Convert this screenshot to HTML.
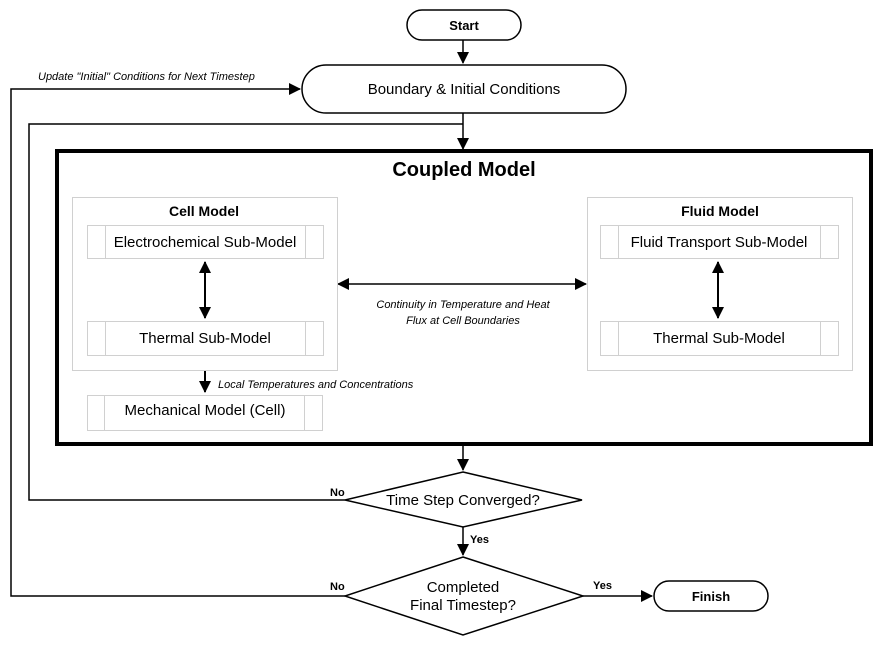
<!DOCTYPE html>
<html><head><style>
body{margin:0;background:#fff}
svg{display:block;font-family:"Liberation Sans",sans-serif}
</style></head><body>
<svg width="882" height="647" viewBox="0 0 882 647" xmlns="http://www.w3.org/2000/svg">
<defs>
<marker id="a" markerWidth="12" markerHeight="12" refX="11" refY="6" orient="auto" markerUnits="userSpaceOnUse"><path d="M0,0 L12,6 L0,12 z" fill="#000"/></marker>
<marker id="b" markerWidth="12" markerHeight="12" refX="1" refY="6" orient="auto" markerUnits="userSpaceOnUse"><path d="M12,0 L0,6 L12,12 z" fill="#000"/></marker>
</defs>
<g fill="none" stroke="#000" stroke-width="1.5">
<rect x="407" y="10" width="114" height="30" rx="15"/>
<rect x="302" y="65" width="324" height="48" rx="24"/>
<line x1="463" y1="40" x2="463" y2="63" marker-end="url(#a)"/>
<line x1="463" y1="113" x2="463" y2="149" marker-end="url(#a)"/>
<polyline points="463,124 29,124 29,500 345,500"/>
<polyline points="345,596 11,596 11,89 300,89" marker-end="url(#a)"/>
<line x1="463" y1="444" x2="463" y2="470" marker-end="url(#a)"/>
<line x1="463" y1="527" x2="463" y2="555" marker-end="url(#a)"/>
<line x1="583" y1="596" x2="652" y2="596" marker-end="url(#a)"/>
<polygon points="463,472 582,500 463,527 345,500"/>
<polygon points="463,557 583,596 463,635 345,596"/>
<rect x="654" y="581" width="114" height="30" rx="15"/>
<line x1="205" y1="262" x2="205" y2="318" marker-start="url(#b)" marker-end="url(#a)" stroke-width="2"/>
<line x1="718" y1="262" x2="718" y2="318" marker-start="url(#b)" marker-end="url(#a)" stroke-width="2"/>
<line x1="338" y1="284" x2="586" y2="284" marker-start="url(#b)" marker-end="url(#a)"/>
<line x1="205" y1="371" x2="205" y2="392" marker-end="url(#a)" stroke-width="2"/>
</g>
<rect x="57" y="151" width="814" height="293" fill="none" stroke="#000" stroke-width="4"/>
<g fill="none" stroke="#d0d0d0" stroke-width="1">
<rect x="72.5" y="197.5" width="265" height="173"/>
<rect x="587.5" y="197.5" width="265" height="173"/>
<rect x="87.5" y="225.5" width="236" height="33"/><line x1="105.5" y1="225" x2="105.5" y2="259"/><line x1="305.5" y1="225" x2="305.5" y2="259"/>
<rect x="87.5" y="321.5" width="236" height="34"/><line x1="105.5" y1="321" x2="105.5" y2="356"/><line x1="305.5" y1="321" x2="305.5" y2="356"/>
<rect x="87.5" y="395.5" width="235" height="35"/><line x1="104.5" y1="395" x2="104.5" y2="431"/><line x1="304.5" y1="395" x2="304.5" y2="431"/>
<rect x="600.5" y="225.5" width="238" height="33"/><line x1="618.5" y1="225" x2="618.5" y2="259"/><line x1="820.5" y1="225" x2="820.5" y2="259"/>
<rect x="600.5" y="321.5" width="238" height="34"/><line x1="618.5" y1="321" x2="618.5" y2="356"/><line x1="820.5" y1="321" x2="820.5" y2="356"/>
</g>
<g fill="#000" text-anchor="middle">
<text x="464" y="30" font-size="13" font-weight="bold">Start</text>
<text x="464" y="94" font-size="15">Boundary &amp; Initial Conditions</text>
<text x="464" y="176" font-size="20" font-weight="bold">Coupled Model</text>
<text x="204" y="216" font-size="14" font-weight="bold">Cell Model</text>
<text x="720" y="216" font-size="14" font-weight="bold">Fluid Model</text>
<text x="205" y="247" font-size="15">Electrochemical Sub-Model</text>
<text x="205" y="343" font-size="15">Thermal Sub-Model</text>
<text x="205" y="415" font-size="15">Mechanical Model (Cell)</text>
<text x="719" y="247" font-size="15">Fluid Transport Sub-Model</text>
<text x="719" y="343" font-size="15">Thermal Sub-Model</text>
<text x="463" y="308" font-size="11" font-style="italic">Continuity in Temperature and Heat</text>
<text x="463" y="324" font-size="11" font-style="italic">Flux at Cell Boundaries</text>
<text x="463" y="505" font-size="15">Time Step Converged?</text>
<text x="463" y="592" font-size="15">Completed</text>
<text x="463" y="610" font-size="15">Final Timestep?</text>
<text x="711" y="601" font-size="13" font-weight="bold">Finish</text>
</g>
<g fill="#000" font-size="11">
<text x="218" y="388" font-style="italic">Local Temperatures and Concentrations</text>
<text x="38" y="80" font-style="italic">Update "Initial" Conditions for Next Timestep</text>
<text x="330" y="496" font-weight="bold">No</text>
<text x="330" y="590" font-weight="bold">No</text>
<text x="470" y="543" font-weight="bold">Yes</text>
<text x="593" y="589" font-weight="bold">Yes</text>
</g>
</svg>
</body></html>
